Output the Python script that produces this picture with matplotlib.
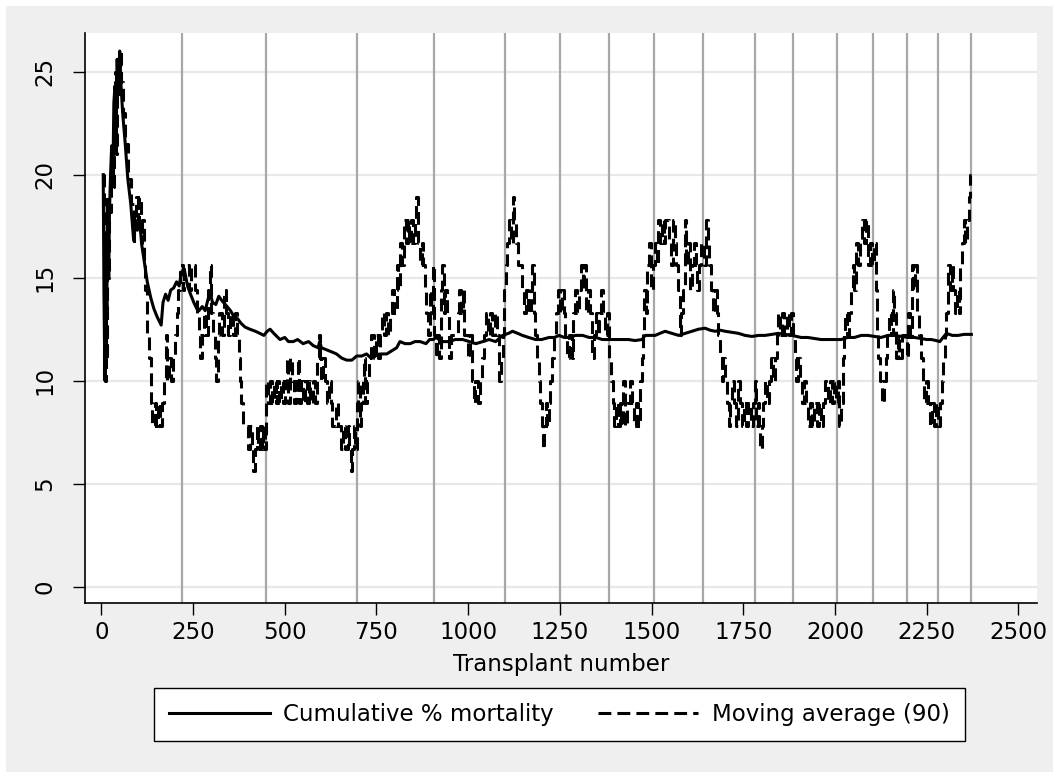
import matplotlib
matplotlib.use("Agg")
import matplotlib.pyplot as plt
from matplotlib.patches import Rectangle

# ---------------- data ----------------
cum_n = [5, 7, 8, 9, 10, 12, 13, 15, 16, 18, 20, 22, 25, 28, 31, 34, 37, 40, 43, 46, 50, 53, 58, 65, 72,
         80, 88, 93, 98, 104, 110, 116, 125, 135, 143, 152, 163, 168, 175, 182, 189, 197, 205, 212, 219,
         226, 235, 243, 252, 260, 266, 275, 283, 290, 296, 303, 312, 320, 328, 338, 352, 362, 372, 380,
         392, 405, 420, 432, 443, 452, 460, 470, 487, 500, 510, 523, 535, 550, 565, 578, 591, 595, 600,
         614, 628, 641, 655, 669, 683, 696, 710, 723, 735, 746, 762, 778, 796, 805, 814, 828, 842, 855,
         869, 885, 895, 905, 912, 930, 948, 965, 985, 1003, 1021, 1040, 1057, 1075, 1094, 1110, 1121,
         1135, 1148, 1165, 1184, 1200, 1221, 1235, 1248, 1262, 1275, 1293, 1312, 1330, 1348, 1366, 1385,
         1403, 1420, 1437, 1455, 1474, 1483, 1497, 1510, 1523, 1537, 1555, 1574, 1592, 1610, 1628, 1646,
         1660, 1674, 1688, 1701, 1720, 1737, 1755, 1774, 1792, 1810, 1828, 1846, 1865, 1883, 1908, 1926,
         1944, 1962, 1981, 2000, 2017, 2035, 2053, 2072, 2090, 2108, 2126, 2145, 2163, 2181, 2199, 2217,
         2235, 2250, 2263, 2276, 2286, 2295, 2304, 2320, 2336, 2352, 2372]
cum_pct = [20.0, 14.3, 12.5, 11.1, 10.0, 16.7, 15.4, 13.3, 18.8, 16.7, 15.0, 18.2, 20.0, 21.4, 19.4, 23.5,
           24.3, 22.5, 25.6, 23.9, 26.0, 24.5, 23.0, 21.5, 19.8, 18.6, 16.8, 17.8, 17.3, 17.8, 16.6, 15.9,
           14.8, 14.0, 13.5, 13.1, 12.7, 13.8, 14.2, 13.9, 14.4, 14.5, 14.8, 14.6, 15.3, 15.4, 14.6, 14.2,
           13.8, 13.5, 13.4, 13.6, 13.4, 13.9, 14.3, 13.8, 13.7, 14.1, 13.9, 13.7, 13.4, 13.1, 13.0, 12.8,
           12.6, 12.5, 12.4, 12.3, 12.2, 12.4, 12.5, 12.3, 12.0, 12.1, 11.9, 11.9, 12.0, 11.8, 11.9, 11.7,
           11.6, 11.9, 11.6, 11.5, 11.4, 11.3, 11.1, 11.0, 11.0, 11.2, 11.2, 11.3, 11.1, 11.2, 11.3, 11.3,
           11.5, 11.6, 11.9, 11.8, 11.8, 11.9, 11.9, 11.8, 12.0, 12.0, 12.1, 11.9, 11.9, 12.0, 12.0, 11.9,
           11.8, 11.9, 12.0, 11.9, 12.2, 12.3, 12.4, 12.3, 12.2, 12.1, 12.0, 12.0, 12.1, 12.1, 12.2, 12.1,
           12.1, 12.2, 12.2, 12.1, 12.1, 12.0, 12.0, 12.0, 12.0, 12.0, 11.95, 12.0, 12.2, 12.2, 12.2, 12.3,
           12.4, 12.3, 12.2, 12.3, 12.4, 12.5, 12.55, 12.45, 12.4, 12.45, 12.4, 12.35, 12.3, 12.2, 12.15,
           12.2, 12.2, 12.25, 12.3, 12.25, 12.2, 12.1, 12.1, 12.05, 12.0, 12.0, 12.0, 12.0, 12.1, 12.1,
           12.2, 12.2, 12.15, 12.1, 12.2, 12.2, 12.15, 12.1, 12.1, 12.05, 12.0, 12.0, 11.95, 11.9, 12.1,
           12.3, 12.2, 12.2, 12.25, 12.25]

ma_n = [4, 6, 8, 10, 12, 14, 16, 18, 22, 25, 28, 31, 34, 37, 40, 43, 46, 50, 53, 58, 65, 72, 80, 88, 90,
        95, 100, 103, 107, 112, 116, 120, 125, 130, 134, 136, 139, 145, 148, 155, 160, 166, 170, 175, 180,
        185, 190, 194, 200, 205, 210, 215, 222, 225, 240, 245, 255, 262, 266, 270, 275, 280, 285, 290,
        296, 300, 305, 310, 313, 317, 322, 328, 334, 340, 346, 352, 358, 364, 370, 375, 379, 382, 385,
        400, 405, 410, 414, 418, 423, 427, 432, 437, 442, 447, 450, 455, 460, 465, 470, 475, 480, 484,
        490, 495, 500, 505, 510, 515, 520, 525, 530, 535, 540, 545, 550, 555, 560, 565, 570, 576, 582,
        588, 592, 596, 600, 605, 610, 615, 620, 625, 630, 640, 645, 652, 660, 665, 672, 676, 680, 684,
        688, 692, 696, 700, 704, 708, 712, 716, 720, 724, 730, 736, 742, 748, 754, 760, 765, 770, 776,
        782, 787, 793, 799, 805, 810, 814, 820, 824, 830, 835, 840, 845, 850, 855, 859, 863, 868, 874,
        878, 882, 886, 891, 896, 900, 904, 908, 912, 916, 921, 925, 930, 934, 938, 943, 948, 953, 960,
        966, 971, 976, 980, 985, 990, 996, 1000, 1005, 1010, 1015, 1020, 1026, 1032, 1038, 1044, 1050,
        1055, 1060, 1066, 1072, 1078, 1084, 1090, 1095, 1099, 1103, 1107, 1111, 1116, 1121, 1125, 1130,
        1135, 1140, 1146, 1152, 1158, 1164, 1170, 1175, 1179, 1183, 1188, 1193, 1197, 1201, 1203, 1206,
        1211, 1216, 1220, 1224, 1229, 1234, 1240, 1245, 1250, 1255, 1260, 1265, 1270, 1276, 1282, 1287,
        1292, 1297, 1302, 1307, 1312, 1317, 1322, 1327, 1332, 1337, 1342, 1348, 1353, 1358, 1363, 1368,
        1374, 1379, 1384, 1389, 1394, 1398, 1403, 1408, 1413, 1418, 1423, 1428, 1434, 1440, 1446, 1452,
        1458, 1463, 1468, 1473, 1476, 1479, 1484, 1489, 1494, 1499, 1504, 1509, 1514, 1518, 1523, 1528,
        1533, 1538, 1543, 1548, 1553, 1558, 1563, 1568, 1573, 1577, 1580, 1585, 1590, 1595, 1600, 1605,
        1610, 1615, 1620, 1625, 1630, 1636, 1642, 1648, 1653, 1658, 1663, 1668, 1673, 1678, 1682, 1686,
        1691, 1696, 1701, 1705, 1710, 1715, 1720, 1725, 1730, 1735, 1740, 1746, 1752, 1758, 1764, 1770,
        1776, 1781, 1786, 1790, 1794, 1797, 1800, 1805, 1810, 1815, 1820, 1826, 1832, 1837, 1842, 1846,
        1851, 1856, 1862, 1868, 1874, 1880, 1885, 1890, 1895, 1900, 1905, 1910, 1915, 1920, 1926, 1932,
        1938, 1944, 1950, 1956, 1962, 1968, 1974, 1980, 1986, 1992, 1997, 2002, 2008, 2012, 2017, 2021,
        2024, 2028, 2033, 2038, 2043, 2048, 2053, 2058, 2063, 2068, 2074, 2080, 2085, 2090, 2095, 2100,
        2106, 2111, 2114, 2118, 2123, 2128, 2133, 2138, 2143, 2148, 2153, 2158, 2162, 2166, 2171, 2176,
        2182, 2190, 2196, 2200, 2205, 2209, 2214, 2219, 2224, 2229, 2234, 2239, 2244, 2249, 2254, 2259,
        2265, 2270, 2276, 2282, 2287, 2291, 2295, 2299, 2303, 2308, 2313, 2318, 2323, 2328, 2333, 2338,
        2342, 2346, 2351, 2356, 2361, 2365, 2369, 2371]
ma_pct = [20.0, 10.0, 17.0, 10.0, 16.7, 11.0, 18.8, 15.0, 18.2, 20.0, 21.4, 19.4, 23.5, 25.0, 21.0, 25.6,
          23.9, 26.0, 24.5, 23.0, 21.5, 19.8, 18.6, 16.8, 17.8, 18.9, 17.8, 18.9, 16.7, 17.8, 15.6, 14.4,
          12.2, 11.1, 10.0, 8.9, 7.8, 8.9, 7.8, 8.9, 7.8, 8.9, 10.0, 12.2, 10.0, 11.1, 10.0, 11.1, 12.2,
          13.3, 14.4, 15.6, 14.4, 15.6, 14.4, 15.6, 14.4, 13.3, 12.2, 11.1, 12.2, 13.3, 12.2, 14.4, 15.6,
          13.3, 12.2, 11.1, 10.0, 12.2, 13.3, 12.2, 14.4, 13.3, 12.2, 13.3, 12.2, 13.3, 12.2, 11.1, 10.0,
          8.9, 7.8, 6.7, 7.8, 6.7, 5.6, 6.7, 7.8, 6.7, 7.8, 6.7, 7.8, 6.7, 10.0, 8.9, 10.0, 8.9, 10.0,
          8.9, 10.0, 8.9, 10.0, 8.9, 10.0, 11.1, 8.9, 11.1, 10.0, 8.9, 10.0, 11.1, 8.9, 10.0, 8.9, 10.0,
          8.9, 10.0, 8.9, 10.0, 8.9, 11.1, 12.2, 11.1, 10.0, 11.1, 10.0, 8.9, 10.0, 8.9, 7.8, 8.9, 7.8,
          6.7, 7.8, 6.7, 7.8, 6.7, 5.6, 6.7, 7.8, 6.7, 8.9, 10.0, 7.8, 8.9, 10.0, 11.1, 8.9, 10.0, 11.1,
          12.2, 11.1, 12.2, 11.1, 12.2, 13.3, 12.2, 13.3, 12.2, 13.3, 14.4, 13.3, 15.6, 14.4, 16.7, 15.6,
          17.8, 16.7, 17.8, 16.7, 17.8, 16.7, 17.8, 18.9, 16.7, 15.6, 16.7, 15.6, 14.4, 13.3, 12.2, 14.4,
          13.3, 15.6, 12.2, 11.1, 12.2, 11.1, 14.4, 15.6, 13.3, 14.4, 13.3, 11.1, 12.2, 12.2, 12.2, 13.3,
          14.4, 13.3, 14.4, 12.2, 12.2, 11.1, 12.2, 10.0, 8.9, 10.0, 8.9, 10.0, 11.1, 12.2, 13.3, 12.2,
          13.3, 12.2, 13.3, 12.2, 10.0, 11.1, 12.2, 14.4, 15.6, 16.7, 17.8, 16.7, 18.9, 17.8, 16.7, 15.6,
          15.6, 14.4, 13.3, 14.4, 13.3, 14.4, 15.6, 13.3, 12.2, 11.1, 10.0, 8.9, 7.8, 6.7, 7.8, 8.9, 7.8,
          8.9, 10.0, 11.1, 12.2, 13.3, 14.4, 13.3, 14.4, 13.3, 12.2, 11.1, 12.2, 11.1, 13.3, 14.4, 13.3,
          14.4, 15.6, 14.4, 15.6, 13.3, 14.4, 13.3, 11.1, 12.2, 13.3, 12.2, 13.3, 14.4, 13.3, 12.2, 13.3,
          11.1, 10.0, 8.9, 7.8, 8.9, 7.8, 8.9, 7.8, 10.0, 7.8, 8.9, 10.0, 8.9, 7.8, 8.9, 7.8, 10.0, 11.1,
          12.2, 14.4, 13.3, 15.6, 16.7, 14.4, 15.6, 16.7, 15.6, 17.8, 16.7, 17.8, 16.7, 17.8, 17.8, 16.7,
          15.6, 17.8, 16.7, 15.6, 14.4, 12.2, 13.3, 14.4, 17.8, 15.6, 16.7, 14.4, 15.6, 16.7, 15.6, 14.4,
          15.6, 16.7, 15.6, 17.8, 16.7, 15.6, 14.4, 13.3, 14.4, 13.3, 12.2, 11.1, 10.0, 11.1, 10.0, 8.9,
          7.8, 8.9, 10.0, 8.9, 7.8, 10.0, 8.9, 7.8, 8.9, 7.8, 8.9, 7.8, 8.9, 10.0, 7.8, 8.9, 7.8, 6.7,
          7.8, 8.9, 10.0, 8.9, 10.0, 11.1, 10.0, 11.1, 12.2, 13.3, 12.2, 13.3, 12.2, 13.3, 12.2, 13.3,
          12.2, 11.1, 10.0, 11.1, 10.0, 8.9, 10.0, 8.9, 7.8, 8.9, 7.8, 8.9, 7.8, 8.9, 7.8, 8.9, 10.0, 8.9,
          10.0, 8.9, 10.0, 8.9, 10.0, 7.8, 8.9, 11.1, 12.2, 13.3, 12.2, 13.3, 14.4, 15.6, 14.4, 16.7,
          15.6, 16.7, 17.8, 16.7, 17.8, 15.6, 16.7, 15.6, 16.7, 14.4, 12.2, 11.1, 10.0, 8.9, 10.0, 11.1,
          12.2, 13.3, 12.2, 14.4, 13.3, 11.1, 12.2, 11.1, 12.2, 12.2, 11.1, 13.3, 12.2, 15.6, 14.4, 15.6,
          13.3, 12.2, 11.1, 10.0, 8.9, 10.0, 8.9, 7.8, 8.9, 7.8, 8.9, 7.8, 8.9, 10.0, 11.1, 12.2, 13.3,
          15.6, 14.4, 15.6, 14.4, 13.3, 14.4, 13.3, 15.6, 16.7, 17.8, 16.7, 17.8, 18.9, 20.0, 20.0]

vline_n = [219, 448, 698, 908, 1100, 1250, 1385, 1508, 1641, 1781, 1886, 2007, 2104, 2197, 2282, 2371]
x_ticks = [0, 250, 500, 750, 1000, 1250, 1500, 1750, 2000, 2250, 2500]
y_ticks = [0, 5, 10, 15, 20, 25]
x_title = "Transplant number"
series_labels = ["Cumulative % mortality", "Moving average (90)"]

# ---------------- figure ----------------
W, H = 1053, 772
fig = plt.figure(figsize=(W / 100, H / 100), dpi=100, facecolor="white")
bg = Rectangle((6 / W, 0), 1 - 6 / W, 1 - 6 / H, transform=fig.transFigure,
               facecolor="#efefef", edgecolor="none", zorder=-10)
fig.add_artist(bg)

left, right, top, bottom = 84.7 / W, 1037 / W, 33.3 / H, 603.3 / H
ax = fig.add_axes([left, 1 - bottom, right - left, bottom - top])
ax.set_facecolor("white")

FS = 16.5
plt.rcParams["font.family"] = ["DejaVu Sans"]

for v in y_ticks:
    ax.axhline(v, color="#e8e8e8", lw=1.6, zorder=1)
for xv in vline_n:
    ax.axvline(xv, color="#a8a8a8", lw=1.6, zorder=2)

l1, = ax.plot(cum_n, cum_pct, color="black", lw=2.2, zorder=4, solid_joinstyle="round")
l2, = ax.plot(ma_n, ma_pct, color="black", lw=2.2, drawstyle="steps-post",
              linestyle=(0, (4.2, 2.0)), zorder=3)

ax.set_xlim(-45.5, 2551)
ax.set_ylim(-0.8, 26.86)
ax.set_xticks(x_ticks)
ax.set_xticklabels([str(t) for t in x_ticks], fontsize=FS)
ax.set_yticks(y_ticks)
ax.set_yticklabels([str(t) for t in y_ticks], fontsize=FS, rotation=90, va="center")
ax.tick_params(axis="x", direction="out", length=8.5, width=1.0, pad=4, colors="black")
ax.tick_params(axis="y", direction="out", length=8.5, width=1.0, pad=12, colors="black")

for s in ["top", "right"]:
    ax.spines[s].set_visible(False)
for s in ["left", "bottom"]:
    ax.spines[s].set_linewidth(1.2)
    ax.spines[s].set_color("black")

ax.set_xlabel(x_title, fontsize=FS, labelpad=6.5)

leg = fig.legend([l1, l2], series_labels, loc="center", bbox_to_anchor=(559.5 / W, 1 - 714.5 / H),
                 ncol=2, fontsize=FS, frameon=True, fancybox=False, handlelength=4.4,
                 handletextpad=0.6, columnspacing=1.9, borderpad=0.65, borderaxespad=0,
                 framealpha=1)
leg.get_frame().set_edgecolor("black")
leg.get_frame().set_linewidth(1.0)
leg.get_frame().set_facecolor("white")

fig.savefig("out.png", dpi=100, facecolor=fig.get_facecolor())
